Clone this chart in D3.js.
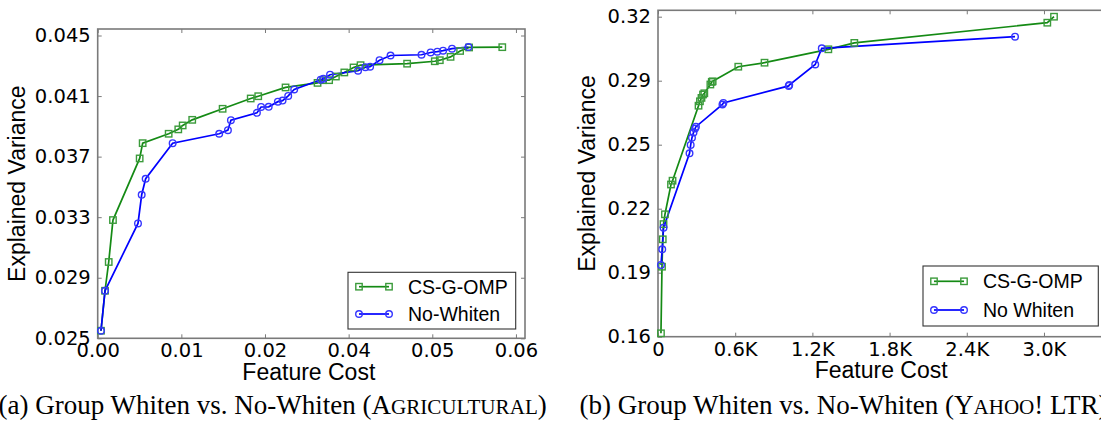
<!DOCTYPE html>
<html>
<head>
<meta charset="utf-8">
<script src="https://cdn.jsdelivr.net/npm/d3@7"></script>
<style>
	body { margin: 0; background: #fff; }
	.axis path { display: none; }
	.axis line { stroke: #7a7a7a; stroke-width: 1; }
	.axis text { font-family: "DejaVu Sans", sans-serif; font-size: 19.5px; fill: #000; }
	.label { font-family: "Liberation Sans", Arial, sans-serif; font-size: 23px; fill: #000; }
	.legend text { font-family: "Liberation Sans", Arial, sans-serif; font-size: 19.5px; fill: #000; }
	.caption { font-family: "Liberation Serif", "Times New Roman", serif; font-size: 27px; fill: #000; }
</style>
</head>
<body>
<svg id="chart" width="1101" height="424"></svg>
<script>

	// (a) AGRICULTURAL: feature cost / explained variance
	var agriCostGomp = [0.00047, 0.00105, 0.00158, 0.00219, 0.00602, 0.00645, 0.01018, 0.01156, 0.01219, 0.01356,
		0.01792, 0.02195, 0.02303, 0.02695, 0.03154, 0.03234, 0.03320, 0.03417, 0.03538, 0.03670,
		0.03771, 0.04439, 0.04836, 0.04908, 0.05062, 0.05199, 0.05328, 0.05804];
	var agriVarGomp = [0.0255, 0.02814, 0.03004, 0.03281, 0.03688, 0.03789, 0.03851, 0.03880, 0.03906, 0.03943,
		0.04016, 0.04084, 0.04099, 0.04157, 0.04187, 0.04205, 0.04205, 0.04229, 0.04256, 0.04289,
		0.04304, 0.04314, 0.04330, 0.04337, 0.04359, 0.04398, 0.04421, 0.04423];

	var agriCostNoWhite = [0.00047, 0.00105, 0.00578, 0.00631, 0.00688, 0.01075, 0.01743, 0.01868, 0.01911, 0.02284,
		0.02344, 0.02453, 0.02585, 0.02652, 0.02733, 0.02819, 0.03199, 0.03237, 0.03333, 0.03735,
		0.03840, 0.03908, 0.04043, 0.04201, 0.04645, 0.04776, 0.04872, 0.04955, 0.05083, 0.05319];
	var agriVarNoWhite = [0.0255, 0.02814, 0.03259, 0.03448, 0.03554, 0.03789, 0.03851, 0.03875, 0.03941, 0.03989,
		0.04028, 0.04029, 0.04063, 0.04070, 0.04101, 0.04144, 0.04208, 0.04215, 0.04241, 0.04268,
		0.04291, 0.04294, 0.04337, 0.04368, 0.04373, 0.04388, 0.04393, 0.04400, 0.04413, 0.04424];

	// (b) YAHOO! LTR
	var yahooCostGomp = [23, 31, 37, 43, 54, 101, 113, 315, 326, 338, 350, 360, 407, 418, 425, 624, 828, 1324, 1526, 3026, 3078];
	var yahooVarGomp = [0.1617, 0.195, 0.2087, 0.2163, 0.2212, 0.2361, 0.2380, 0.2755, 0.2777, 0.2794, 0.2811, 0.2817,
		0.2861, 0.2874, 0.2877, 0.2950, 0.2970, 0.3037, 0.3069, 0.3170, 0.3200];

	var yahooCostNoWhite = [23, 33, 43, 245, 254, 264, 276, 288, 295, 501, 508, 1016, 1020, 1222, 1273, 2775];
	var yahooVarNoWhite = [0.1959, 0.2037, 0.2145, 0.2517, 0.2559, 0.2595, 0.2621, 0.2641, 0.2650, 0.2761, 0.2769,
		0.2854, 0.2858, 0.2961, 0.3042, 0.3100];

	// tick values and the labels printed on them
	var agriXTicks = [0, 0.012, 0.024, 0.036, 0.048, 0.060];
	var agriXLabels = ["0.00", "0.01", "0.02", "0.04", "0.05", "0.06"];
	var agriYTicks = [0.025, 0.029, 0.033, 0.037, 0.041, 0.045];
	var agriYLabels = ["0.025", "0.029", "0.033", "0.037", "0.041", "0.045"];

	var yahooXTicks = [0, 600, 1200, 1800, 2400, 3000];
	var yahooXLabels = ["0", "0.6K", "1.2K", "1.8K", "2.4K", "3.0K"];
	var yahooYTicks = [0.16, 0.192, 0.224, 0.256, 0.288, 0.32];
	var yahooYLabels = ["0.16", "0.19", "0.22", "0.25", "0.29", "0.32"];

	var seriesNames = ["CS-G-OMP", "No-Whiten"];

	var green = "#148a14", greenMark = "#3b9b3b",
		blue = "#0000ff", blueMark = "#3535ff";

	var svg = d3.select("#chart");

	function zip(a, b) { return a.map(function(d, i) { return [d, b[i]]; }); }

	function panel(o) {
		var x = d3.scaleLinear().domain(o.xDomain).range([o.l, o.r]),
			y = d3.scaleLinear().domain(o.yDomain).range([o.b, o.t]);
		var g = svg.append("g");

		// ticks on all four sides, pointing inward
		g.append("g").attr("class", "axis")
			.attr("transform", "translate(0," + o.b + ")")
			.call(d3.axisBottom(x).tickValues(o.xTicks)
				.tickFormat(function(d, i) { return o.xLabels[i]; })
				.tickSizeInner(-4).tickSizeOuter(0).tickPadding(5));
		g.append("g").attr("class", "axis")
			.attr("transform", "translate(0," + o.t + ")")
			.call(d3.axisTop(x).tickValues(o.xTicks).tickFormat("")
				.tickSizeInner(-4).tickSizeOuter(0));
		g.append("g").attr("class", "axis")
			.attr("transform", "translate(" + o.l + ",0)")
			.call(d3.axisLeft(y).tickValues(o.yTicks)
				.tickFormat(function(d, i) { return o.yLabels[i]; })
				.tickSizeInner(-4).tickSizeOuter(0).tickPadding(7));
		g.append("g").attr("class", "axis")
			.attr("transform", "translate(" + o.r + ",0)")
			.call(d3.axisRight(y).tickValues(o.yTicks).tickFormat("")
				.tickSizeInner(-4).tickSizeOuter(0));

		g.append("rect")
			.attr("x", o.l).attr("y", o.t)
			.attr("width", o.r - o.l).attr("height", o.b - o.t)
			.style("fill", "none").style("stroke", "#7a7a7a").style("stroke-width", 1.6);

		var line = d3.line().x(function(d) { return x(d[0]); }).y(function(d) { return y(d[1]); });

		var series = [
			{ pts: zip(o.costA, o.varA), col: green, mark: greenMark, shape: "square" },
			{ pts: zip(o.costB, o.varB), col: blue, mark: blueMark, shape: "circle" }
		];

		series.forEach(function(s) {
			g.append("path").datum(s.pts)
				.attr("d", line)
				.style("fill", "none").style("stroke", s.col).style("stroke-width", 1.7);
		});
		series.forEach(function(s) {
			drawMarks(g, s.pts.map(function(d) { return [x(d[0]), y(d[1])]; }), s);
		});

		// legend
		var lg = g.append("g").attr("class", "legend");
		lg.append("rect")
			.attr("x", o.leg.x).attr("y", o.leg.y)
			.attr("width", o.leg.w).attr("height", o.leg.h)
			.style("fill", "#fff").style("stroke", "#333").style("stroke-width", 1.1);
		series.forEach(function(s, i) {
			var yy = o.leg.y + o.leg.row0 + i * o.leg.step,
				x0 = o.leg.x + 11, x1 = x0 + 30;
			lg.append("line").attr("x1", x0).attr("x2", x1).attr("y1", yy).attr("y2", yy)
				.style("stroke", s.col).style("stroke-width", 1.7);
			drawMarks(lg, [[x0, yy], [x1, yy]], s);
			lg.append("text").attr("x", x1 + 19).attr("y", yy).attr("dy", "0.35em")
				.text(o.names[i]);
		});

		// axis titles
		g.append("text").attr("class", "label")
			.attr("text-anchor", "middle")
			.attr("x", (o.l + o.r) / 2 - o.xLabShift).attr("y", o.b + 41.5)
			.text("Feature Cost");
		g.append("text").attr("class", "label")
			.attr("text-anchor", "middle")
			.attr("transform", "translate(" + o.yLabX + "," + (o.t + o.b) / 2 + ") rotate(-90)")
			.text("Explained Variance");
	}

	function drawMarks(g, pts, s) {
		if (s.shape == "square") {
			g.selectAll(null).data(pts).enter().append("rect")
				.attr("x", function(d) { return d[0] - 3.2; })
				.attr("y", function(d) { return d[1] - 3.2; })
				.attr("width", 6.4).attr("height", 6.4)
				.style("fill", "none").style("stroke", s.mark).style("stroke-width", 1.4);
		} else {
			g.selectAll(null).data(pts).enter().append("circle")
				.attr("cx", function(d) { return d[0]; })
				.attr("cy", function(d) { return d[1]; })
				.attr("r", 3.3)
				.style("fill", "none").style("stroke", s.mark).style("stroke-width", 1.4);
		}
	}

	panel({
		l: 97.7, r: 525, t: 29, b: 338.3,
		xDomain: [0, 0.0613], yDomain: [0.025, 0.04543],
		xTicks: agriXTicks, xLabels: agriXLabels, yTicks: agriYTicks, yLabels: agriYLabels,
		costA: agriCostGomp, varA: agriVarGomp, costB: agriCostNoWhite, varB: agriVarNoWhite,
		names: seriesNames,
		leg: { x: 348, y: 272.3, w: 167.7, h: 56.7, row0: 14.4, step: 27.3 },
		xLabShift: 2.5, yLabX: 25
	});

	panel({
		l: 658, r: 1108.3, t: 10.3, b: 336.7,
		xDomain: [0, 3500], yDomain: [0.16, 0.3232],
		xTicks: yahooXTicks, xLabels: yahooXLabels, yTicks: yahooYTicks, yLabels: yahooYLabels,
		costA: yahooCostGomp, varA: yahooVarGomp, costB: yahooCostNoWhite, varB: yahooVarNoWhite,
		names: ["CS-G-OMP", "No Whiten"],
		leg: { x: 923, y: 266, w: 175.3, h: 60, row0: 15.3, step: 28.7 },
		xLabShift: 2, yLabX: 595
	});

	// captions, with small caps for the data set names
	var capA = svg.append("text").attr("class", "caption").attr("x", -1.5).attr("y", 413.5);
	capA.append("tspan").text("(a) Group Whiten vs. No-Whiten (A");
	capA.append("tspan").style("font-size", "21.1px").text("GRICULTURAL");
	capA.append("tspan").text(")");

	var capB = svg.append("text").attr("class", "caption").attr("x", 579.5).attr("y", 413.5);
	capB.append("tspan").text("(b) Group Whiten vs. No-Whiten (Y");
	capB.append("tspan").style("font-size", "21.1px").text("AHOO");
	capB.append("tspan").text("! LTR)");

</script>
</body>
</html>
